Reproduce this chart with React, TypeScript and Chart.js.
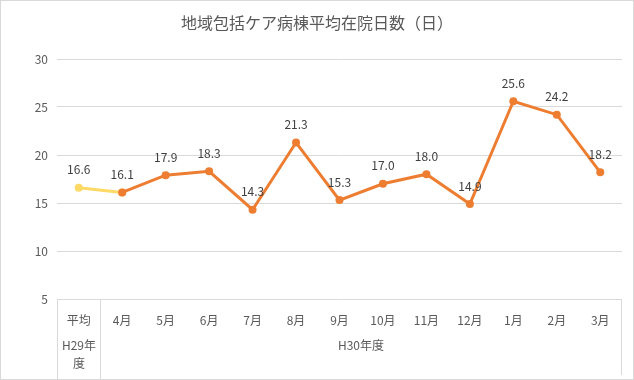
import React, { useEffect, useRef } from "react";
import { Chart, registerables } from "chart.js";

Chart.register(...registerables);

const TITLE = "地域包括ケア病棟平均在院日数（日）";
const categories = ["平均", "4月", "5月", "6月", "7月", "8月", "9月", "10月", "11月", "12月", "1月", "2月", "3月"];
const avgValues: (number | null)[] = [16.6, 16.1, null, null, null, null, null, null, null, null, null, null, null];
const monthValues: (number | null)[] = [null, 16.1, 17.9, 18.3, 14.3, 21.3, 15.3, 17.0, 18.0, 14.9, 25.6, 24.2, 18.2];
const groupH29 = ["H29年", "度"];
const groupH30 = "H30年度";
const Y_MIN = 5;
const Y_MAX = 30;
const Y_STEP = 5;

const FONT = "'Noto Sans CJK JP', 'Noto Sans', sans-serif";
const TEXT = "#595959";
const GRID = "#d9d9d9";

export default function App() {
  const ref = useRef<HTMLCanvasElement | null>(null);
  useEffect(() => {
    document.body.style.margin = "0";
    const canvas = ref.current!;
    const plugin = {
      id: "custom",
      afterDraw(chart: any) {
        const ctx = chart.ctx as CanvasRenderingContext2D;
        const area = chart.chartArea;
        const x = chart.scales.x;
        ctx.save();
        // outer border
        ctx.strokeStyle = GRID;
        ctx.lineWidth = 1;
        ctx.strokeRect(0.5, 0.5, 633, 379);
        // title
        ctx.fillStyle = TEXT;
        ctx.font = `16px ${FONT}`;
        ctx.textAlign = "center";
        ctx.textBaseline = "middle";
        ctx.fillText(TITLE, 317, 23);
        // category box lines
        const p0 = x.getPixelForValue(0);
        const p1 = x.getPixelForValue(1);
        const div = Math.round((p0 + p1) / 2) + 0.5;
        const left = Math.round(area.left) + 0.5;
        const right = Math.round(area.right) - 0.5;
        ctx.beginPath();
        ctx.moveTo(left, area.bottom);
        ctx.lineTo(left, 379);
        ctx.moveTo(div, area.bottom);
        ctx.lineTo(div, 379);
        ctx.moveTo(right, area.bottom);
        ctx.lineTo(right, 375);
        ctx.stroke();
        // category labels
        ctx.font = `12px ${FONT}`;
        ctx.fillStyle = TEXT;
        categories.forEach((c, i) => {
          ctx.fillText(c, x.getPixelForValue(i), area.bottom + 21);
        });
        // group labels
        const c0 = (left + div) / 2;
        ctx.fillText(groupH29[0], c0, area.bottom + 46);
        ctx.fillText(groupH29[1], c0, area.bottom + 64);
        ctx.fillText(groupH30, (div + right) / 2, area.bottom + 46);
        // data labels
        ctx.fillStyle = "#404040";
        ctx.font = `12px ${FONT}`;
        const drawLabels = (dsIndex: number, values: (number | null)[], only?: number) => {
          const meta = chart.getDatasetMeta(dsIndex);
          values.forEach((v, i) => {
            if (v == null) return;
            if (only !== undefined && i !== only) return;
            const el = meta.data[i];
            ctx.fillText(v.toFixed(1), el.x, el.y - 18);
          });
        };
        drawLabels(0, avgValues, 0);
        drawLabels(1, monthValues);
        ctx.restore();
      },
    };
    const chart = new Chart(canvas, {
      type: "line",
      data: {
        labels: categories,
        datasets: [
          {
            data: avgValues,
            borderColor: "#FFD966",
            backgroundColor: "#FFD966",
            borderWidth: 3,
            pointRadius: 4,
            pointBorderWidth: 0,
            order: 2,
          },
          {
            data: monthValues,
            borderColor: "#ED7D31",
            backgroundColor: "#ED7D31",
            borderWidth: 3,
            pointRadius: 4,
            pointBorderWidth: 0,
            order: 1,
          },
        ],
      },
      options: {
        responsive: false,
        animation: false,
        layout: { padding: { left: 0, top: 59, right: 12, bottom: 81 } },
        plugins: { legend: { display: false }, tooltip: { enabled: false }, title: { display: false } },
        scales: {
          x: { display: false, offset: true },
          y: {
            min: Y_MIN,
            max: Y_MAX,
            ticks: { stepSize: Y_STEP, color: TEXT, font: { size: 12, family: FONT }, padding: 9 },
            grid: { color: GRID, drawTicks: false },
            border: { display: false },
            afterFit(scale: any) {
              scale.width = 57;
            },
          },
        },
      },
      plugins: [plugin],
    });
    return () => chart.destroy();
  }, []);
  return <canvas ref={ref} width={634} height={380} style={{ display: "block" }} />;
}
